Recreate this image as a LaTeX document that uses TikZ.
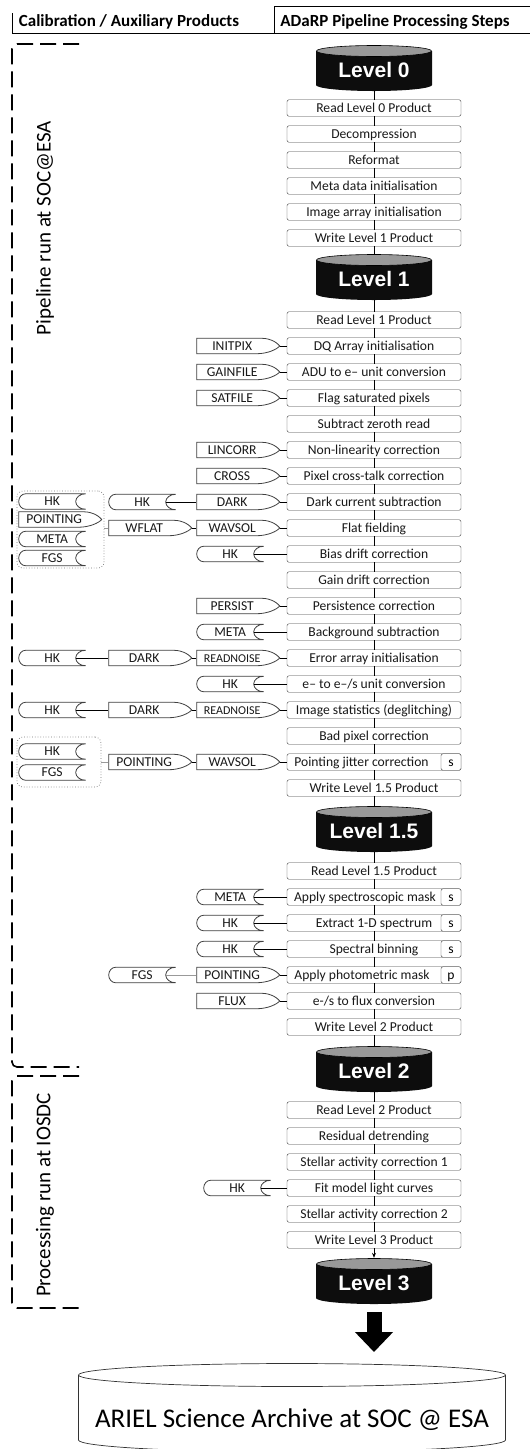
\documentclass[tikz,border=0pt]{standalone}
\usepackage{fontspec}
\setmainfont{Carlito}
\newfontfamily\levelfont{Liberation Sans}
\usetikzlibrary{arrows.meta}

\newcommand\boxfont{\fontsize{13.6}{15}\selectfont}

\begin{document}
\begin{tikzpicture}[x=1pt,y=-1pt,
	stepbox/.style={draw=black!75,fill=white,rounded corners=2pt,minimum width=174pt,minimum height=16.5pt,inner sep=0pt,font=\boxfont,text=black!90,text height=8.8pt,text depth=0pt},
	tagbox/.style={draw=black!75,fill=white,rounded corners=2pt,minimum width=20pt,minimum height=16.5pt,inner sep=0pt,font=\boxfont,text height=8.8pt,text depth=0pt},
	level/.style={fill=white,minimum width=116pt,minimum height=46pt,inner sep=0pt,text=white,text height=19pt,text depth=0pt,
		font=\levelfont\bfseries\fontsize{21}{22}\selectfont,
		path picture={
			\fill[black!95] ([yshift=-6pt]path picture bounding box.north west) -- ([yshift=-40pt]path picture bounding box.north west)
				arc[start angle=180,end angle=360,x radius=58pt,y radius=6pt] -- ([yshift=-6pt]path picture bounding box.north east) -- cycle;
			\filldraw[fill=black!40,draw=black,line width=0.6pt] ([yshift=-6pt]path picture bounding box.north) ellipse[x radius=57.5pt,y radius=5.5pt];
		}},
	calfile/.style={anchor=west,fill=white,minimum width=84pt,minimum height=16.5pt,inner sep=0pt,font=\boxfont,text=black!90,text height=8.8pt,text depth=0pt,
		execute at end node={\hspace*{12pt}},
		path picture={
			\draw[black!75,line width=0.8pt] ([xshift=0.5pt,yshift=-0.5pt]path picture bounding box.north west)
				-- ([xshift=-19pt,yshift=-0.5pt]path picture bounding box.north east)
				.. controls ([xshift=-8pt,yshift=-0.5pt]path picture bounding box.north east) and ([xshift=-2pt,yshift=2pt]path picture bounding box.east) .. ([xshift=-0.5pt]path picture bounding box.east)
				.. controls ([xshift=-3pt,yshift=-3pt]path picture bounding box.east) and ([xshift=-12pt,yshift=0.5pt]path picture bounding box.south east) .. ([xshift=-24pt,yshift=0.5pt]path picture bounding box.south east)
				-- ([xshift=0.5pt,yshift=0.5pt]path picture bounding box.south west) -- cycle;
		}},
	calstore/.style={anchor=west,fill=white,minimum width=68pt,minimum height=16.5pt,inner sep=0pt,font=\boxfont,text=black!90,text height=8.8pt,text depth=0pt,
		path picture={
			\draw[black!75,line width=0.8pt] ([xshift=7.5pt,yshift=-0.5pt]path picture bounding box.north west)
				-- ([xshift=-0.5pt,yshift=-0.5pt]path picture bounding box.north east)
				arc[start angle=90,end angle=270,x radius=10pt,y radius=7.75pt]
				-- ([xshift=7.5pt,yshift=0.5pt]path picture bounding box.south west)
				arc[start angle=-90,end angle=-270,x radius=7pt,y radius=7.75pt];
		}},
	calgroup/.style={draw=black!55,dotted,line width=0.7pt,rounded corners=6pt,inner sep=0pt},
	link/.style={draw=black,line width=0.7pt},
	feed/.style={draw=black!40,line width=0.9pt},
	bracket/.style={line width=1.6pt,dash pattern=on 16pt off 7pt,rounded corners=5pt},
	bigarrow/.style={line width=15pt,-{Triangle[length=20pt,width=37pt]}}]

	\useasboundingbox (0,0) rectangle (530,1449);

	% header
	\draw[line width=0.8pt] (274,6.5) -- (530,6.5);
	\draw[line width=0.8pt] (12,13) -- (12,33.5) -- (530,33.5);
	\draw[line width=0.8pt] (274,6.5) -- (274,33.5);
	\node[font=\bfseries\fontsize{17}{18}\selectfont] (hcal) at (129,22) {Calibration / Auxiliary Products};
	\node[font=\bfseries\fontsize{17}{18}\selectfont] (hpipe) at (395,22) {ADaRP Pipeline Processing Steps};

	% run brackets
	\draw[bracket] (79,44) -- (12,44) -- (12,1067) -- (79,1067);
	\draw[bracket] (79,1076) -- (12,1076) -- (12,1308) -- (79,1308);
	\node[rotate=90,font=\fontsize{21}{22}\selectfont] (socesa) at (45,228) {Pipeline run at SOC@ESA};
	\node[rotate=90,font=\fontsize{21}{22}\selectfont] (iosdc) at (45,1195) {Processing run at IOSDC};

	% pipeline steps
	\node[level] (l0) at (374,68) {Level 0};
	\node[stepbox] (r0) at (374,108) {Read Level 0 Product};
	\node[stepbox] (decomp) at (374,134) {Decompression};
	\node[stepbox] (reform) at (374,160) {Reformat};
	\node[stepbox] (metaini) at (374,186) {Meta data initialisation};
	\node[stepbox] (imgini) at (374,212) {Image array initialisation};
	\node[stepbox] (w1) at (374,238) {Write Level 1 Product};
	\node[level] (l1) at (374,277) {Level 1};
	\node[stepbox] (r1) at (374,320) {Read Level 1 Product};
	\node[stepbox] (dq) at (374,346) {DQ Array initialisation};
	\node[stepbox] (adu) at (374,372) {ADU to e– unit conversion};
	\node[stepbox] (flag) at (374,398) {Flag saturated pixels};
	\node[stepbox] (zero) at (374,424) {Subtract zeroth read};
	\node[stepbox] (nonlin) at (374,450) {Non-linearity correction};
	\node[stepbox] (xtalk) at (374,476) {Pixel cross-talk correction};
	\node[stepbox] (dark) at (374,502) {Dark current subtraction};
	\node[stepbox] (flat) at (374,528) {Flat fielding};
	\node[stepbox] (bias) at (374,554) {Bias drift correction};
	\node[stepbox] (gain) at (374,580) {Gain drift correction};
	\node[stepbox] (persist) at (374,606) {Persistence correction};
	\node[stepbox] (bkg) at (374,632) {Background subtraction};
	\node[stepbox] (err) at (374,658) {Error array initialisation};
	\node[stepbox] (eps) at (374,684) {e– to e–/s unit conversion};
	\node[stepbox] (stats) at (374,710) {Image statistics (deglitching)};
	\node[stepbox] (badpix) at (374,736) {Bad pixel correction};
	\node[stepbox] (jitter) at (374,762) {Pointing jitter correction\hspace*{25pt}};
	\node[tagbox] (jitters) at (451,762) {s};
	\node[stepbox] (w15) at (374,788) {Write Level 1.5 Product};
	\node[level] (l15) at (374,829) {Level 1.5};
	\node[stepbox] (r15) at (374,871) {Read Level 1.5 Product};
	\node[stepbox] (specmask) at (374,897) {Apply spectroscopic mask\hspace*{18pt}};
	\node[tagbox] (specmasks) at (451,897) {s};
	\node[stepbox] (extract) at (374,923) {Extract 1-D spectrum};
	\node[tagbox] (extracts) at (451,923) {s};
	\node[stepbox] (binning) at (374,949) {Spectral binning};
	\node[tagbox] (binnings) at (451,949) {s};
	\node[stepbox] (photmask) at (374,975) {Apply photometric mask\hspace*{24pt}};
	\node[tagbox] (photmaskp) at (451,975) {p};
	\node[stepbox] (flux) at (374,1001) {e-/s to flux conversion};
	\node[stepbox] (w2) at (374,1027) {Write Level 2 Product};
	\node[level] (l2) at (374,1069) {Level 2};
	\node[stepbox] (r2) at (374,1110) {Read Level 2 Product};
	\node[stepbox] (detrend) at (374,1136) {Residual detrending};
	\node[stepbox] (star1) at (374,1162) {Stellar activity correction 1};
	\node[stepbox] (fitlc) at (374,1188) {Fit model light curves};
	\node[stepbox] (star2) at (374,1214) {Stellar activity correction 2};
	\node[stepbox] (w3) at (374,1240) {Write Level 3 Product};
	\node[level] (l3) at (374,1281) {Level 3};

	\node[fill=white,minimum width=428pt,minimum height=114pt,inner sep=0pt,font=\fontsize{27}{30}\selectfont,
		path picture={
			\draw[black!80,line width=0.7pt] ([xshift=0.5pt,yshift=-12pt]path picture bounding box.north west) -- ([xshift=0.5pt,yshift=-77pt]path picture bounding box.north west)
				arc[start angle=180,end angle=360,x radius=213.5pt,y radius=12pt] -- ([xshift=-0.5pt,yshift=-12pt]path picture bounding box.north east);
			\draw[black!80,line width=0.7pt] ([yshift=-12pt]path picture bounding box.north) ellipse[x radius=213.5pt,y radius=11.5pt];
		}] (archive) at (292,1420) {ARIEL Science Archive at SOC @ ESA};
	\coordinate (archtop) at (374,1352);

	\draw[link] (l0) -- (r0) -- (decomp) -- (reform) -- (metaini) -- (imgini) -- (w1) -- (l1)
		-- (r1) -- (dq) -- (adu) -- (flag) -- (zero) -- (nonlin) -- (xtalk) -- (dark) -- (flat) -- (bias)
		-- (gain) -- (persist) -- (bkg) -- (err) -- (eps) -- (stats) -- (badpix) -- (jitter) -- (w15) -- (l15)
		-- (r15) -- (specmask) -- (extract) -- (binning) -- (photmask) -- (flux) -- (w2) -- (l2)
		-- (r2) -- (detrend) -- (star1) -- (fitlc) -- (star2) -- (w3);
	\draw[link,-{Stealth[length=5pt,width=4pt]}] (w3) -- (l3);
	\draw[bigarrow] ([yshift=-8pt]l3.south) -- (archtop);

	% calibration / auxiliary products
	\node[calfile] (initpix) at (196,346) {INITPIX};
	\node[calfile] (gainfile) at (196,372) {GAINFILE};
	\node[calfile] (satfile) at (196,398) {SATFILE};
	\node[calfile] (lincorr) at (196,450) {LINCORR};
	\node[calfile] (cross) at (196,476) {CROSS};
	\node[calfile] (darka) at (196,502) {DARK};
	\node[calstore] (hkdark) at (108,502) {HK};
	\node[calfile] (wavsola) at (196,528) {WAVSOL};
	\node[calfile] (wflat) at (108,528) {WFLAT};
	\node[calgroup,minimum width=87pt,minimum height=77pt] (grpa) at (60.5,529.5) {};
	\node[calstore] (grpahk) at (18,501.5) {HK};
	\node[calfile] (grpapnt) at (18,519.5) {POINTING};
	\node[calstore] (grpameta) at (18,539) {META};
	\node[calstore] (grpafgs) at (18,558) {FGS};
	\node[calstore] (hkbias) at (196,554) {HK};
	\node[calfile] (persistf) at (196,606) {PERSIST};
	\node[calstore] (metabkg) at (196,632) {META};
	\node[calfile,font=\fontsize{12}{13}\selectfont] (rnerr) at (196,658) {READNOISE};
	\node[calfile] (darkerr) at (108,658) {DARK};
	\node[calstore] (hkerr) at (18,658) {HK};
	\node[calstore] (hkeps) at (196,684) {HK};
	\node[calfile,font=\fontsize{12}{13}\selectfont] (rnstat) at (196,710) {READNOISE};
	\node[calfile] (darkstat) at (108,710) {DARK};
	\node[calstore] (hkstat) at (18,710) {HK};
	\node[calfile] (wavsolb) at (196,762) {WAVSOL};
	\node[calfile] (pntjit) at (108,762) {POINTING};
	\node[calgroup,minimum width=84pt,minimum height=50pt] (grpb) at (59,762) {};
	\node[calstore] (grpbhk) at (18,751.5) {HK};
	\node[calstore] (grpbfgs) at (18,772.5) {FGS};
	\node[calstore] (metamask) at (196,897) {META};
	\node[calstore] (hkext) at (196,923) {HK};
	\node[calstore] (hkbin) at (196,949) {HK};
	\node[calfile] (pntphot) at (196,975) {POINTING};
	\node[calstore] (fgsphot) at (108,975) {FGS};
	\node[calfile] (fluxf) at (196,1001) {FLUX};
	\node[calstore] (hkfit) at (203,1188) {HK};

	\draw[link] (initpix) -- (dq);
	\draw[link] (gainfile) -- (adu);
	\draw[link] (satfile) -- (flag);
	\draw[link] (lincorr) -- (nonlin);
	\draw[link] (cross) -- (xtalk);
	\draw[link] (darka) -- (dark);
	\draw[link] ([xshift=-10pt]hkdark.east) -- (darka);
	\draw[link] (wavsola) -- (flat);
	\draw[link] (wflat) -- (wavsola);
	\draw[feed] (wflat.west) -- (wflat.west -| grpa.east);
	\draw[link] ([xshift=-10pt]hkbias.east) -- (bias);
	\draw[link] (persistf) -- (persist);
	\draw[link] ([xshift=-10pt]metabkg.east) -- (bkg);
	\draw[link] (rnerr) -- (err);
	\draw[link] (darkerr) -- (rnerr);
	\draw[link] ([xshift=-10pt]hkerr.east) -- (darkerr);
	\draw[link] ([xshift=-10pt]hkeps.east) -- (eps);
	\draw[link] (rnstat) -- (stats);
	\draw[link] (darkstat) -- (rnstat);
	\draw[link] ([xshift=-10pt]hkstat.east) -- (darkstat);
	\draw[link] (wavsolb) -- (jitter);
	\draw[link] (pntjit) -- (wavsolb);
	\draw[feed] (pntjit.west) -- (pntjit.west -| grpb.east);
	\draw[link] ([xshift=-10pt]metamask.east) -- (specmask);
	\draw[link] ([xshift=-10pt]hkext.east) -- (extract);
	\draw[link] ([xshift=-10pt]hkbin.east) -- (binning);
	\draw[link] (pntphot) -- (photmask);
	\draw[feed] ([xshift=-10pt]fgsphot.east) -- (pntphot);
	\draw[link] (fluxf) -- (flux);
	\draw[link] ([xshift=-10pt]hkfit.east) -- (fitlc);
\end{tikzpicture}
\end{document}
